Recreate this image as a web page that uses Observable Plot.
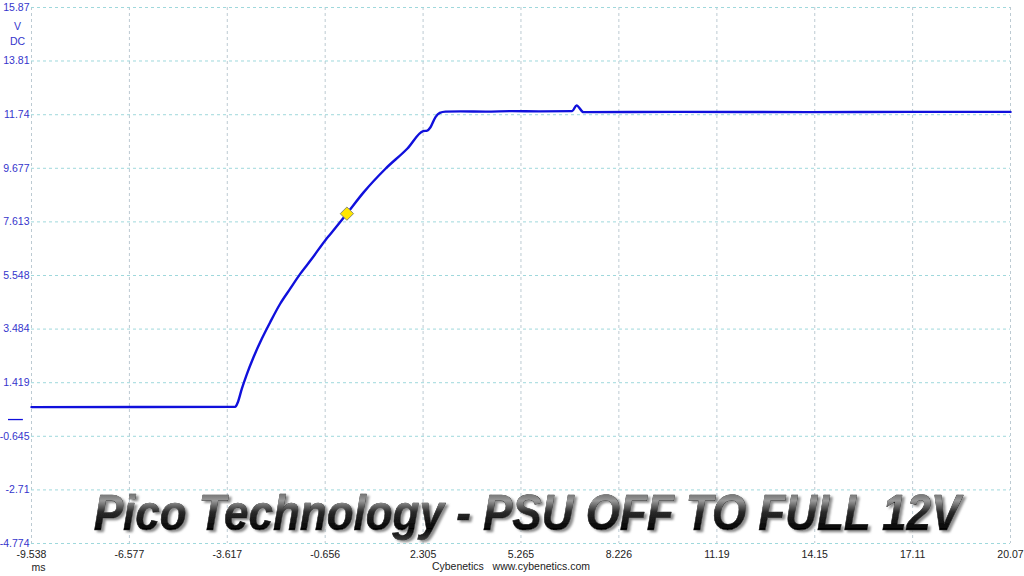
<!DOCTYPE html>
<html><head><meta charset="utf-8">
<script src="https://cdn.jsdelivr.net/npm/d3@7"></script>
<script src="https://cdn.jsdelivr.net/npm/@observablehq/plot@0.6"></script>
<style>
body{margin:0;background:#fff;}
#chart{position:relative;width:1024px;height:576px;overflow:hidden}
</style>
</head><body><div id="chart"></div>
<script>
// Tick values and labels (as printed on the scope screenshot)
const xTicks = [-9.538, -6.577, -3.617, -0.656, 2.305, 5.265, 8.226, 11.19, 14.15, 17.11, 20.07];
const xTickLabels = ["-9.538", "-6.577", "-3.617", "-0.656", "2.305", "5.265", "8.226", "11.19", "14.15", "17.11", "20.07"];
const yTicks = [-4.774, -2.71, -0.645, 1.419, 3.484, 5.548, 7.613, 9.677, 11.74, 13.81, 15.87];
const yTickLabels = ["-4.774", "-2.71", "-0.645", "1.419", "3.484", "5.548", "7.613", "9.677", "11.74", "13.81", "15.87"];

// Trace: time (ms) and voltage (V DC)
const timeMs = [-9.538, -3.378, -3.300, -3.178, -3.027, -2.824, -2.573, -2.319, -2.017, -1.714, -1.412, -1.061, -0.656, -0.495, 0.010, 0.512, 1.168, 1.824, 2.308, 2.429, 2.529, 2.680, 2.810, 2.982, 3.436, 4.20, 5.00, 5.80, 6.814, 6.944, 7.156, 10.0, 14.0, 17.0, 20.07];
const volts  = [0.48, 0.49, 0.66, 1.18, 1.74, 2.40, 3.11, 3.75, 4.46, 5.04, 5.61, 6.19, 6.90, 7.15, 7.95, 8.76, 9.66, 10.43, 11.11, 11.13, 11.26, 11.65, 11.81, 11.86, 11.87, 11.86, 11.88, 11.87, 11.88, 12.10, 11.84, 11.85, 11.84, 11.85, 11.85];

// Trigger marker
const triggerTime = [0.0];
const triggerVolts = [7.93];

const zeroLevel = [0];

const titleText = "Pico Technology - PSU OFF TO FULL 12V";
const footerText = "Cybenetics\u00a0\u00a0 www.cybenetics.com";
const xUnit = "ms";
const yUnit = ["V", "DC"];

const trace = timeMs.map((t, i) => ({t, v: volts[i]}));
const trig = triggerTime.map((t, i) => ({t, v: triggerVolts[i]}));

const blue = "#3535cc";
const lineBlue = "#1010dc";

const plot = Plot.plot({
  width: 1024, height: 576,
  marginLeft: 31, marginRight: 14, marginTop: 7, marginBottom: 33,
  style: {fontFamily: "'Liberation Sans', Arial, sans-serif", fontSize: "10.5px", background: "#fff", overflow: "visible"},
  x: {domain: [xTicks[0], xTicks[xTicks.length - 1]]},
  y: {domain: [yTicks[0], yTicks[yTicks.length - 1]]},
  marks: [
    Plot.ruleX(xTicks, {stroke: "#bccad2", strokeDasharray: "3,3", strokeWidth: 1}),
    Plot.ruleY(yTicks, {stroke: "#9fd8dc", strokeDasharray: "3,3", strokeWidth: 1}),
    Plot.axisX({ticks: xTicks, tickFormat: d => xTickLabels[xTicks.indexOf(d)], tickSize: 0, tickPadding: 7, label: null, color: "#222"}),
    Plot.axisY({ticks: yTicks, tickFormat: d => yTickLabels[yTicks.indexOf(d)], tickSize: 0, tickPadding: 2, label: null, color: blue}),
    Plot.text([yUnit[0]], {frameAnchor: "top-left", dx: -14, dy: 15, fill: blue, textAnchor: "middle", fontSize: 10.5}),
    Plot.text([yUnit[1]], {frameAnchor: "top-left", dx: -14, dy: 30, fill: blue, textAnchor: "middle", fontSize: 10.5}),
    Plot.text([xUnit], {frameAnchor: "bottom-left", dx: 7, dy: 27, fill: "#222", textAnchor: "middle", fontSize: 10.5}),
    Plot.text([footerText], {frameAnchor: "bottom", dx: -10, dy: 26, fill: "#222", textAnchor: "middle", fontSize: 10.5}),
    Plot.ruleY(zeroLevel, {x1: xTicks[0], x2: xTicks[0] + 0.45, dx: -23, stroke: lineBlue, strokeWidth: 1.3}),
    Plot.line(trace, {x: "t", y: "v", curve: "monotone-x", stroke: lineBlue, strokeWidth: 2.4, strokeLinejoin: "round"}),
    Plot.dot(trig, {x: "t", y: "v", symbol: "diamond2", r: 6, fill: "#ffe600", stroke: "#8a8a70", strokeWidth: 1}),
    Plot.text([titleText], {frameAnchor: "bottom", dx: 6, dy: -14, lineAnchor: "bottom", textAnchor: "middle",
      fontSize: 50, fontWeight: "bold", fontStyle: "italic", fill: "url(#metal)", stroke: "#111", strokeWidth: 0.6})
  ]
});

const svg = d3.select(plot);
svg.insert("defs", ":first-child").html(`
  <linearGradient id="metal" x1="0" y1="0" x2="0" y2="1">
    <stop offset="0%" stop-color="#3a3a3a"/>
    <stop offset="30%" stop-color="#9a9a9a"/>
    <stop offset="50%" stop-color="#2a2a2a"/>
    <stop offset="80%" stop-color="#050505"/>
    <stop offset="100%" stop-color="#3a3a3a"/>
  </linearGradient>
  <filter id="shadow" x="-5%" y="-30%" width="110%" height="160%">
    <feDropShadow dx="3" dy="2" stdDeviation="1.2" flood-color="#808080" flood-opacity="0.9"/>
  </filter>`);
svg.selectAll("text").filter(function() { return this.textContent === titleText; })
  .each(function() {
    const el = d3.select(this);
    const tr = el.attr("transform") || "";
    el.attr("transform", tr + " scale(0.88,1)").attr("filter", "url(#shadow)");
  });

document.getElementById("chart").appendChild(plot);
</script>
</body></html>
